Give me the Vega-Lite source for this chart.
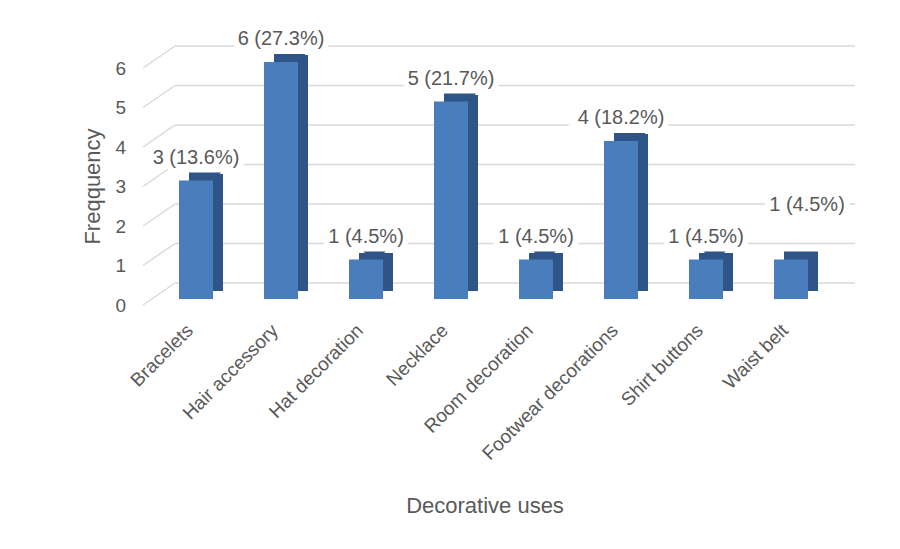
{
  "$schema": "https://vega.github.io/schema/vega-lite/v6.json",
  "width": 680,
  "height": 237,
  "autosize": {"type": "none"},
  "padding": {"left": 153.5, "top": 62, "right": 66.5, "bottom": 250},
  "background": "white",
  "config": {
    "view": {"stroke": null},
    "font": "Liberation Sans",
    "axis": {"labelFont": "Liberation Sans", "titleFont": "Liberation Sans", "labelColor": "#595959", "titleColor": "#595959", "titleFontWeight": "normal"},
    "axisY": {"labelOverlap": false, "labelFontSize": 19, "labelPadding": 28, "labelOffset": 6, "ticks": false, "domain": false, "grid": false, "labelBound": false}
  },
  "datasets": {
    "uses": [
      {"use": "Bracelets", "count": 3, "label": "3 (13.6%)"},
      {"use": "Hair accessory", "count": 6, "label": "6 (27.3%)"},
      {"use": "Hat decoration", "count": 1, "label": "1 (4.5%)"},
      {"use": "Necklace", "count": 5, "label": "5 (21.7%)"},
      {"use": "Room decoration", "count": 1, "label": "1 (4.5%)"},
      {"use": "Footwear decorations", "count": 4, "label": "4 (18.2%)"},
      {"use": "Shirt buttons", "count": 1, "label": "1 (4.5%)"},
      {"use": "Waist belt", "count": 1, "label": "1 (4.5%)"}
    ],
    "grid": [{"v": 0}, {"v": 1}, {"v": 2}, {"v": 3}, {"v": 4}, {"v": 5}, {"v": 6}]
  },
  "layer": [
    {
      "data": {"name": "grid"},
      "mark": {"type": "rule", "color": "#d9d9d9", "strokeWidth": 1.5, "yOffset": 6, "y2Offset": -16, "xOffset": -36, "x2Offset": -4},
      "encoding": {
        "x": {"datum": "Bracelets", "type": "nominal", "bandPosition": 0, "scale": {"domain": ["Bracelets", "Hair accessory", "Hat decoration", "Necklace", "Room decoration", "Footwear decorations", "Shirt buttons", "Waist belt"], "paddingInner": 0.6, "paddingOuter": 0.3}},
        "x2": {"datum": "Bracelets", "bandPosition": 0},
        "y": {"field": "v", "type": "quantitative", "scale": {"domain": [0, 6], "nice": false},
          "axis": {"title": "Freqquency", "titleFontSize": 22, "titleX": -61.5, "titleY": 124, "titleBaseline": "middle", "titleAnchor": "middle", "values": [0, 1, 2, 3, 4, 5, 6], "tickCount": 7}},
        "y2": {"field": "v"}
      }
    },
    {
      "data": {"name": "grid"},
      "mark": {"type": "rule", "color": "#d9d9d9", "strokeWidth": 1.5, "yOffset": -16, "y2Offset": -16, "xOffset": -4, "x2Offset": 47},
      "encoding": {
        "x": {"datum": "Bracelets", "type": "nominal", "bandPosition": 0},
        "x2": {"datum": "Waist belt", "bandPosition": 1},
        "y": {"field": "v", "type": "quantitative"},
        "y2": {"field": "v"}
      }
    },
    {
      "data": {"name": "uses"},
      "layer": [
        {
          "mark": {"type": "bar", "color": "#2f5488", "width": 34, "xOffset": 10, "yOffset": -8, "y2Offset": -8},
          "encoding": {
            "x": {"field": "use", "type": "nominal", "sort": null,
              "axis": {"title": "Decorative uses", "titleFontSize": 22, "titleX": 331, "titleY": 206, "titleBaseline": "middle", "titleAnchor": "middle", "labelAngle": -45, "labelAlign": "right", "labelBaseline": "middle", "labelFontSize": 19, "labelPadding": 28, "labelOffset": -6, "labelLimit": 400, "ticks": false, "domain": false}},
            "y": {"field": "count", "type": "quantitative"}
          }
        },
        {
          "mark": {"type": "bar", "color": "#4a7dbc", "width": 34},
          "encoding": {
            "x": {"field": "use", "type": "nominal", "sort": null},
            "y": {"field": "count", "type": "quantitative"}
          }
        },
        {
          "transform": [{"filter": "datum.use !== 'Waist belt'"}],
          "mark": {"type": "text", "fontSize": 20, "dy": -23, "baseline": "middle", "stroke": "white", "strokeWidth": 12, "fill": "white"},
          "encoding": {
            "x": {"field": "use", "type": "nominal", "sort": null},
            "y": {"field": "count", "type": "quantitative"},
            "text": {"field": "label"}
          }
        },
        {
          "transform": [{"filter": "datum.use !== 'Waist belt'"}],
          "mark": {"type": "text", "fontSize": 20, "dy": -23, "baseline": "middle", "color": "#595959"},
          "encoding": {
            "x": {"field": "use", "type": "nominal", "sort": null},
            "y": {"field": "count", "type": "quantitative"},
            "text": {"field": "label"}
          }
        },
        {
          "transform": [{"filter": "datum.use === 'Waist belt'"}],
          "mark": {"type": "text", "fontSize": 20, "dy": -55, "dx": 16, "baseline": "middle", "stroke": "white", "strokeWidth": 12, "fill": "white"},
          "encoding": {
            "x": {"field": "use", "type": "nominal", "sort": null},
            "y": {"field": "count", "type": "quantitative"},
            "text": {"field": "label"}
          }
        },
        {
          "transform": [{"filter": "datum.use === 'Waist belt'"}],
          "mark": {"type": "text", "fontSize": 20, "dy": -55, "dx": 16, "baseline": "middle", "color": "#595959"},
          "encoding": {
            "x": {"field": "use", "type": "nominal", "sort": null},
            "y": {"field": "count", "type": "quantitative"},
            "text": {"field": "label"}
          }
        }
      ]
    }
  ]
}
